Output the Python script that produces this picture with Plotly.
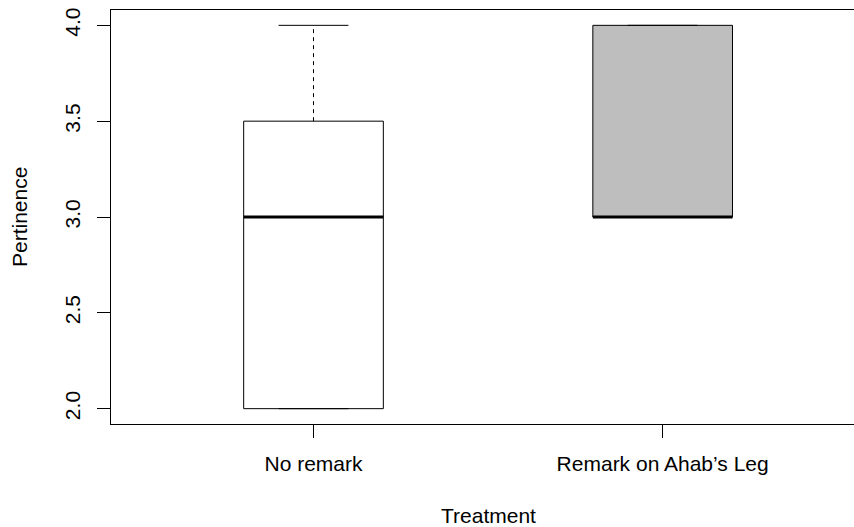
import plotly.graph_objects as go

# ---- data ----
categories = ["No remark", "Remark on Ahab\u2019s Leg"]
lower_whisker = [2.0, 3.0]
q1 = [2.0, 3.0]
median = [3.0, 3.0]
q3 = [3.5, 4.0]
upper_whisker = [4.0, 4.0]
fill_colors = ["white", "#BEBEBE"]
y_ticks = [2.0, 2.5, 3.0, 3.5, 4.0]

FONT = "Liberation Sans, Arial, Helvetica, sans-serif"
BOX_HALF = 0.2
CAP_HALF = 0.1

fig = go.Figure()
positions = list(range(1, len(categories) + 1))

for pos, lo, a, m, b, hi, col in zip(positions, lower_whisker, q1, median, q3, upper_whisker, fill_colors):
    # box
    fig.add_trace(go.Scatter(
        x=[pos - BOX_HALF, pos + BOX_HALF, pos + BOX_HALF, pos - BOX_HALF, pos - BOX_HALF],
        y=[a, a, b, b, a], mode="lines", fill="toself", fillcolor=col,
        line=dict(color="black", width=1), hoverinfo="skip", showlegend=False))
    # whiskers (dashed)
    for y0, y1 in ((b, hi), (a, lo)):
        fig.add_trace(go.Scatter(x=[pos, pos], y=[y0, y1], mode="lines",
                                 line=dict(color="black", width=1, dash="4px,4px"),
                                 hoverinfo="skip", showlegend=False))
    # staples
    for yy in (hi, lo):
        fig.add_trace(go.Scatter(x=[pos - CAP_HALF, pos + CAP_HALF], y=[yy, yy], mode="lines",
                                 line=dict(color="black", width=1),
                                 hoverinfo="skip", showlegend=False))
    # median
    fig.add_trace(go.Scatter(x=[pos - BOX_HALF, pos + BOX_HALF], y=[m, m], mode="lines",
                             line=dict(color="black", width=3),
                             hoverinfo="skip", showlegend=False))

fig.update_layout(
    width=854, height=527,
    margin=dict(l=111, r=0, t=10, b=103),
    paper_bgcolor="white", plot_bgcolor="white",
    font=dict(family=FONT, size=21, color="black"),
    hovermode=False,
    xaxis=dict(range=[0.42, 2.548], tickvals=positions, ticktext=categories,
               showgrid=False, zeroline=False, showline=True, mirror=True,
               linecolor="black", linewidth=1, ticks="outside", ticklen=13,
               tickcolor="black", tickwidth=1, ticklabelstandoff=8, automargin=False),
    yaxis=dict(range=[1.92, 4.08], tickvals=y_ticks, tickformat=".1f",
               showgrid=False, zeroline=False, showline=True, mirror=False,
               linecolor="black", linewidth=1, ticks="outside", ticklen=13,
               tickcolor="black", tickwidth=1, tickangle=-90, ticklabelstandoff=9,
               automargin=False),
    annotations=[
        dict(text="Pertinence", xref="paper", yref="paper", x=0, y=0.5,
             xanchor="center", yanchor="middle", xshift=-92, textangle=-90,
             showarrow=False, font=dict(family=FONT, size=21)),
        dict(text="Treatment", xref="x", yref="paper", x=1.5, y=0,
             xanchor="center", yanchor="middle", yshift=-91,
             showarrow=False, font=dict(family=FONT, size=21)),
    ],
)

fig.write_html("out.html", config={"displayModeBar": False},
               post_script="document.body.style.margin='0';document.body.style.overflow='hidden';")
